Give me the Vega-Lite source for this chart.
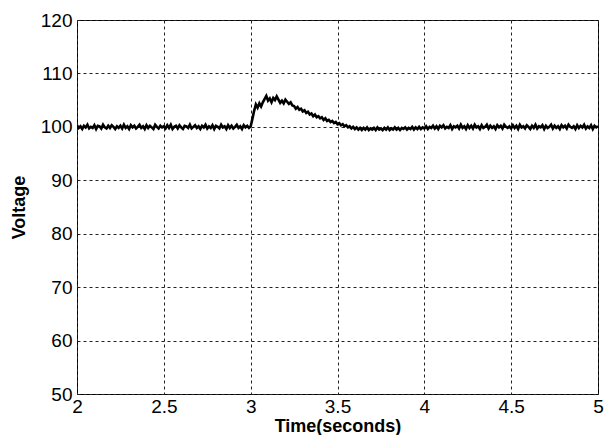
{
  "$schema": "https://vega.github.io/schema/vega-lite/v6.json",
  "width": 521,
  "height": 374,
  "autosize": {"type": "none"},
  "padding": {"left": 77, "top": 20, "right": 7, "bottom": 41},
  "background": "white",
  "config": {
    "view": {"stroke": "black", "strokeWidth": 1},
    "font": "Liberation Sans"
  },
  "data": {"values": [
    {"t":2.00,"v":100.3},{"t":2.01,"v":99.8},{"t":2.02,"v":100.1},{"t":2.03,"v":99.6},{"t":2.04,"v":100.2},{"t":2.05,"v":99.9},{"t":2.06,"v":100.4},{"t":2.07,"v":99.7},{"t":2.08,"v":100.0},{"t":2.09,"v":99.8},
    {"t":2.10,"v":100.3},{"t":2.11,"v":99.6},{"t":2.12,"v":100.2},{"t":2.13,"v":100.1},{"t":2.14,"v":99.7},{"t":2.15,"v":100.4},{"t":2.16,"v":99.9},{"t":2.17,"v":99.7},{"t":2.18,"v":100.2},{"t":2.19,"v":99.8},
    {"t":2.20,"v":100.3},{"t":2.21,"v":100.0},{"t":2.22,"v":99.6},{"t":2.23,"v":100.1},{"t":2.24,"v":99.8},{"t":2.25,"v":100.2},{"t":2.26,"v":99.7},{"t":2.27,"v":100.4},{"t":2.28,"v":99.8},{"t":2.29,"v":100.1},
    {"t":2.30,"v":99.6},{"t":2.31,"v":100.3},{"t":2.32,"v":99.9},{"t":2.33,"v":100.2},{"t":2.34,"v":99.7},{"t":2.35,"v":100.0},{"t":2.36,"v":100.4},{"t":2.37,"v":99.8},{"t":2.38,"v":100.1},{"t":2.39,"v":99.6},
    {"t":2.40,"v":100.3},{"t":2.41,"v":99.8},{"t":2.42,"v":100.2},{"t":2.43,"v":99.9},{"t":2.44,"v":99.6},{"t":2.45,"v":100.4},{"t":2.46,"v":100.0},{"t":2.47,"v":99.7},{"t":2.48,"v":100.2},{"t":2.49,"v":99.9},
    {"t":2.50,"v":100.1},{"t":2.51,"v":99.7},{"t":2.52,"v":100.3},{"t":2.53,"v":99.8},{"t":2.54,"v":100.4},{"t":2.55,"v":99.6},{"t":2.56,"v":100.0},{"t":2.57,"v":100.2},{"t":2.58,"v":99.7},{"t":2.59,"v":100.3},
    {"t":2.60,"v":99.9},{"t":2.61,"v":99.6},{"t":2.62,"v":100.2},{"t":2.63,"v":100.1},{"t":2.64,"v":99.8},{"t":2.65,"v":100.4},{"t":2.66,"v":99.7},{"t":2.67,"v":100.0},{"t":2.68,"v":100.3},{"t":2.69,"v":99.8},
    {"t":2.70,"v":100.1},{"t":2.71,"v":99.6},{"t":2.72,"v":100.2},{"t":2.73,"v":99.9},{"t":2.74,"v":100.4},{"t":2.75,"v":99.7},{"t":2.76,"v":100.1},{"t":2.77,"v":99.8},{"t":2.78,"v":100.3},{"t":2.79,"v":99.6},
    {"t":2.80,"v":100.2},{"t":2.81,"v":100.0},{"t":2.82,"v":99.7},{"t":2.83,"v":100.4},{"t":2.84,"v":99.9},{"t":2.85,"v":100.1},{"t":2.86,"v":99.6},{"t":2.87,"v":100.3},{"t":2.88,"v":99.8},{"t":2.89,"v":100.2},
    {"t":2.90,"v":99.7},{"t":2.91,"v":100.0},{"t":2.92,"v":100.4},{"t":2.93,"v":99.8},{"t":2.94,"v":100.1},{"t":2.95,"v":99.6},{"t":2.96,"v":100.3},{"t":2.97,"v":99.9},{"t":2.98,"v":100.2},{"t":2.99,"v":99.8},
    {"t":3.00,"v":100.1},{"t":3.01,"v":101.5},{"t":3.02,"v":103.0},{"t":3.03,"v":104.2},{"t":3.04,"v":103.6},{"t":3.05,"v":104.4},{"t":3.06,"v":103.8},{"t":3.07,"v":104.6},{"t":3.08,"v":105.2},{"t":3.09,"v":105.8},
    {"t":3.10,"v":104.9},{"t":3.11,"v":105.3},{"t":3.12,"v":104.6},{"t":3.13,"v":105.4},{"t":3.14,"v":105.0},{"t":3.15,"v":105.7},{"t":3.16,"v":105.1},{"t":3.17,"v":104.5},{"t":3.18,"v":104.9},{"t":3.19,"v":104.4},
    {"t":3.20,"v":105.1},{"t":3.21,"v":104.7},{"t":3.22,"v":104.3},{"t":3.23,"v":104.6},{"t":3.24,"v":104.0},{"t":3.25,"v":103.9},{"t":3.26,"v":103.4},{"t":3.27,"v":103.7},{"t":3.28,"v":103.2},{"t":3.29,"v":103.4},
    {"t":3.30,"v":102.9},{"t":3.31,"v":103.1},{"t":3.32,"v":102.6},{"t":3.33,"v":102.8},{"t":3.34,"v":102.3},{"t":3.35,"v":102.5},{"t":3.36,"v":102.0},{"t":3.37,"v":102.3},{"t":3.38,"v":101.8},{"t":3.39,"v":102.0},
    {"t":3.40,"v":101.6},{"t":3.41,"v":101.8},{"t":3.42,"v":101.3},{"t":3.43,"v":101.6},{"t":3.44,"v":101.1},{"t":3.45,"v":101.3},{"t":3.46,"v":100.9},{"t":3.47,"v":101.1},{"t":3.48,"v":100.7},{"t":3.49,"v":100.9},
    {"t":3.50,"v":100.5},{"t":3.51,"v":100.7},{"t":3.52,"v":100.3},{"t":3.53,"v":100.5},{"t":3.54,"v":100.1},{"t":3.55,"v":100.3},{"t":3.56,"v":99.9},{"t":3.57,"v":100.1},{"t":3.58,"v":99.7},{"t":3.59,"v":100.0},
    {"t":3.60,"v":99.6},{"t":3.61,"v":99.9},{"t":3.62,"v":99.5},{"t":3.63,"v":99.8},{"t":3.64,"v":99.4},{"t":3.65,"v":99.8},{"t":3.66,"v":99.5},{"t":3.67,"v":99.9},{"t":3.68,"v":99.4},{"t":3.69,"v":99.7},
    {"t":3.70,"v":99.5},{"t":3.71,"v":99.8},{"t":3.72,"v":99.4},{"t":3.73,"v":99.9},{"t":3.74,"v":99.5},{"t":3.75,"v":99.7},{"t":3.76,"v":99.4},{"t":3.77,"v":99.8},{"t":3.78,"v":99.5},{"t":3.79,"v":99.9},
    {"t":3.80,"v":99.4},{"t":3.81,"v":99.7},{"t":3.82,"v":99.5},{"t":3.83,"v":99.9},{"t":3.84,"v":99.5},{"t":3.85,"v":99.8},{"t":3.86,"v":99.4},{"t":3.87,"v":99.8},{"t":3.88,"v":99.6},{"t":3.89,"v":99.9},
    {"t":3.90,"v":99.5},{"t":3.91,"v":99.8},{"t":3.92,"v":99.6},{"t":3.93,"v":100.0},{"t":3.94,"v":99.5},{"t":3.95,"v":99.9},{"t":3.96,"v":99.6},{"t":3.97,"v":100.0},{"t":3.98,"v":99.6},{"t":3.99,"v":99.9},
    {"t":4.00,"v":99.7},{"t":4.01,"v":100.1},{"t":4.02,"v":99.6},{"t":4.03,"v":100.0},{"t":4.04,"v":99.8},{"t":4.05,"v":100.2},{"t":4.06,"v":99.7},{"t":4.07,"v":100.1},{"t":4.08,"v":99.6},{"t":4.09,"v":100.2},
    {"t":4.10,"v":99.9},{"t":4.11,"v":100.3},{"t":4.12,"v":99.7},{"t":4.13,"v":100.0},{"t":4.14,"v":99.8},{"t":4.15,"v":100.3},{"t":4.16,"v":99.6},{"t":4.17,"v":100.1},{"t":4.18,"v":99.9},{"t":4.19,"v":100.2},
    {"t":4.20,"v":99.7},{"t":4.21,"v":100.4},{"t":4.22,"v":99.8},{"t":4.23,"v":100.1},{"t":4.24,"v":99.6},{"t":4.25,"v":100.3},{"t":4.26,"v":99.8},{"t":4.27,"v":100.2},{"t":4.28,"v":99.7},{"t":4.29,"v":100.4},
    {"t":4.30,"v":99.9},{"t":4.31,"v":100.1},{"t":4.32,"v":99.6},{"t":4.33,"v":100.3},{"t":4.34,"v":99.8},{"t":4.35,"v":100.0},{"t":4.36,"v":100.4},{"t":4.37,"v":99.7},{"t":4.38,"v":100.2},{"t":4.39,"v":99.8},
    {"t":4.40,"v":100.1},{"t":4.41,"v":99.6},{"t":4.42,"v":100.3},{"t":4.43,"v":99.9},{"t":4.44,"v":100.2},{"t":4.45,"v":99.7},{"t":4.46,"v":100.4},{"t":4.47,"v":100.0},{"t":4.48,"v":99.8},{"t":4.49,"v":100.1},
    {"t":4.50,"v":99.7},{"t":4.51,"v":100.3},{"t":4.52,"v":99.8},{"t":4.53,"v":100.2},{"t":4.54,"v":99.6},{"t":4.55,"v":100.4},{"t":4.56,"v":99.9},{"t":4.57,"v":100.1},{"t":4.58,"v":99.7},{"t":4.59,"v":100.3},
    {"t":4.60,"v":100.0},{"t":4.61,"v":99.6},{"t":4.62,"v":100.2},{"t":4.63,"v":99.8},{"t":4.64,"v":100.4},{"t":4.65,"v":99.7},{"t":4.66,"v":100.1},{"t":4.67,"v":99.9},{"t":4.68,"v":100.3},{"t":4.69,"v":99.6},
    {"t":4.70,"v":100.2},{"t":4.71,"v":99.8},{"t":4.72,"v":100.0},{"t":4.73,"v":100.4},{"t":4.74,"v":99.7},{"t":4.75,"v":100.2},{"t":4.76,"v":99.8},{"t":4.77,"v":100.1},{"t":4.78,"v":99.6},{"t":4.79,"v":100.3},
    {"t":4.80,"v":99.9},{"t":4.81,"v":100.2},{"t":4.82,"v":99.7},{"t":4.83,"v":100.4},{"t":4.84,"v":100.0},{"t":4.85,"v":99.8},{"t":4.86,"v":100.1},{"t":4.87,"v":99.6},{"t":4.88,"v":100.3},{"t":4.89,"v":99.8},
    {"t":4.90,"v":100.2},{"t":4.91,"v":99.9},{"t":4.92,"v":100.4},{"t":4.93,"v":99.7},{"t":4.94,"v":100.1},{"t":4.95,"v":99.8},{"t":4.96,"v":100.3},{"t":4.97,"v":99.6},{"t":4.98,"v":100.2},{"t":4.99,"v":99.9},
    {"t":5.00,"v":100.1}
  ]},
  "mark": {"type": "line", "color": "black", "strokeWidth": 2.6, "clip": true},
  "encoding": {
    "x": {
      "field": "t", "type": "quantitative",
      "scale": {"domain": [2, 5], "nice": false, "zero": false},
      "axis": {
        "title": "Time(seconds)",
        "values": [2, 2.5, 3, 3.5, 4, 4.5, 5],
        "format": "~g",
        "grid": true, "gridDash": [3, 3], "gridColor": "#222", "gridOpacity": 1, "gridWidth": 1,
        "domain": false, "ticks": false,
        "labelFont": "Liberation Sans", "labelFontSize": 19, "labelColor": "black", "labelPadding": 3,
        "labelFlush": false,
        "titleFont": "Liberation Sans", "titleFontSize": 18, "titleFontWeight": "bold", "titleColor": "black", "titlePadding": 1
      }
    },
    "y": {
      "field": "v", "type": "quantitative",
      "scale": {"domain": [50, 120], "nice": false, "zero": false},
      "axis": {
        "title": "Voltage",
        "values": [50, 60, 70, 80, 90, 100, 110, 120],
        "grid": true, "gridDash": [3, 3], "gridColor": "#222", "gridOpacity": 1, "gridWidth": 1,
        "domain": false, "ticks": false,
        "labelFont": "Liberation Sans", "labelFontSize": 19, "labelColor": "black", "labelPadding": 5,
        "labelFlush": false,
        "titleFont": "Liberation Sans", "titleFontSize": 18, "titleFontWeight": "bold", "titleColor": "black", "titlePadding": 12
      }
    }
  }
}
